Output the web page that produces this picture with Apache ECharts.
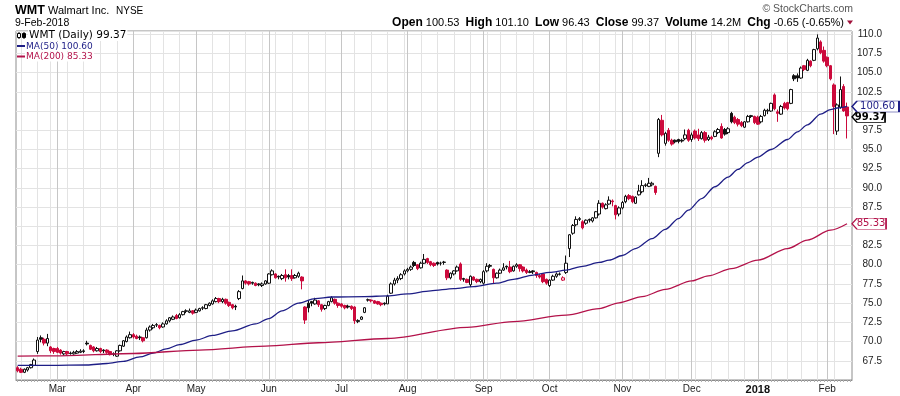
<!DOCTYPE html>
<html>
<head>
<meta charset="utf-8">
<script src="https://cdn.jsdelivr.net/npm/echarts@6.0.0/dist/echarts.min.js"></script>
<style>
html,body{margin:0;padding:0;background:#fff;}
#chart{width:900px;height:396px;}
</style>
</head>
<body>
<div id="chart"></div>
<script>
// ---- Data: daily candles [open, high, low, close], one array per month ----
const feb17 = [
[66.6,66.8,66.0,66.2],[66.4,66.6,65.9,66.0],[66.0,66.5,65.9,66.4],[66.3,66.7,66.1,66.6],
[66.6,67.1,66.5,67.0],[66.9,67.8,66.8,67.6],[68.7,70.6,68.4,70.2],[70.5,70.8,69.9,70.3],
[70.3,70.5,69.5,69.8],[69.8,71.0,69.4,70.4],[69.3,69.4,68.5,68.8],[69.1,69.2,68.4,68.7]];
const mar17 = [
[69.1,69.3,68.5,68.6],[68.9,69.0,68.3,68.5],[68.4,68.8,68.2,68.7],[68.7,68.8,68.2,68.4],
[68.5,68.7,68.3,68.45],[68.4,68.8,68.3,68.6],[68.5,68.9,68.4,68.7],[68.6,69.0,68.5,68.75],
[68.7,69.0,68.5,68.8],[69.8,70.1,69.5,69.7],[69.5,69.6,68.9,69.0],[69.3,69.4,68.6,68.8],
[68.8,69.3,68.7,69.1],[69.1,69.2,68.5,68.7],[68.9,69.0,68.5,68.8],[68.9,69.0,68.4,68.6],
[68.7,68.8,68.2,68.3],[68.4,68.6,68.1,68.35],[68.1,68.9,68.0,68.8],[68.8,69.6,68.7,69.5],
[69.4,70.2,69.3,70.1],[70.0,70.8,69.9,70.6],[70.5,71.3,70.4,70.9]];
const apr17 = [
[70.9,71.1,70.4,70.6],[70.7,70.9,70.3,70.4],[70.6,70.8,70.2,70.5],[70.5,70.6,69.9,70.1],
[70.5,71.8,70.4,71.5],[71.5,72.1,71.3,71.9],[71.8,72.3,71.6,72.1],[72.2,72.4,71.9,72.15],
[72.1,72.2,71.6,71.8],[71.9,72.5,71.8,72.3],[72.3,72.9,72.2,72.7],[72.7,73.2,72.5,73.1],
[72.9,73.4,72.8,73.2],[73.4,73.6,72.9,73.0],[73.1,73.7,73.0,73.5],[73.5,74.0,73.4,73.9],
[74.0,74.2,73.7,73.95],[73.8,74.3,73.7,74.0],[74.0,74.1,73.5,73.7]];
const may17 = [
[73.8,74.3,73.7,74.1],[74.0,74.4,73.9,74.3],[74.4,74.6,74.1,74.35],[74.3,74.9,74.2,74.8],
[74.7,75.1,74.6,75.0],[74.9,75.5,74.8,75.3],[75.2,75.8,75.1,75.6],[75.6,75.7,75.0,75.2],
[75.2,75.7,75.0,75.5],[75.5,75.6,74.8,75.0],[75.1,75.2,74.5,74.7],[74.8,74.9,74.2,74.4],
[74.6,74.8,74.1,74.5],[75.6,76.7,75.4,76.5],[76.9,78.6,76.8,77.9],[77.9,78.0,77.4,77.6],
[77.8,77.9,77.3,77.5],[77.7,77.8,77.4,77.6],[77.6,77.7,77.2,77.3],[77.5,77.6,77.2,77.4],
[77.3,77.7,77.1,77.5],[77.5,78.0,77.4,77.9]];
const jun17 = [
[77.6,78.9,77.5,78.8],[78.7,79.4,78.6,79.2],[78.8,78.9,78.2,78.3],[78.5,78.6,78.1,78.4],
[78.2,78.8,78.0,78.6],[78.7,79.4,77.8,78.3],[78.6,78.8,78.1,78.4],[78.6,79.4,77.9,78.2],
[78.3,78.8,78.2,78.6],[78.5,79.1,78.3,78.9],[78.4,78.5,76.8,77.9],[74.5,74.6,72.3,72.8],
[75.0,75.4,73.8,74.4],[75.2,75.3,74.6,75.0],[74.9,75.7,74.8,75.4],[75.3,75.4,74.5,74.8],
[74.8,74.9,73.9,74.2],[74.3,74.8,74.1,74.7],[74.7,75.3,74.6,75.2],[75.2,75.9,75.1,75.7],
[75.5,75.6,74.8,75.0],[75.0,75.1,74.4,74.7]];
const jul17 = [
[74.9,75.0,74.4,74.6],[74.7,74.8,74.2,74.4],[74.6,74.8,74.3,74.5],[74.6,74.7,74.1,74.3],
[74.5,74.6,72.3,72.7],[72.6,72.9,72.4,72.75],[72.9,73.3,72.8,73.2],[73.8,74.5,73.7,74.4],
[75.4,75.6,75.2,75.45],[75.4,75.5,75.1,75.3],[75.3,75.4,74.9,75.0],[75.2,75.3,74.8,74.9],
[75.0,75.1,74.6,74.8],[75.0,75.1,74.7,74.9],[74.9,76.1,74.9,75.9],[76.3,77.7,76.2,77.5],
[77.5,78.3,77.3,78.0],[78.0,78.5,77.6,78.2],[78.2,78.9,78.0,78.7],[78.8,79.4,78.6,79.2]];
const aug17 = [
[79.2,79.6,79.0,79.4],[79.4,79.9,79.2,79.7],[80.3,80.5,79.7,79.9],[80.0,80.1,79.3,79.5],
[79.6,80.4,79.5,80.2],[80.2,81.4,80.1,80.7],[80.8,80.9,80.1,80.3],[80.4,80.5,79.8,80.0],
[80.2,80.3,79.7,79.9],[80.3,80.4,79.9,80.1],[80.2,80.4,79.9,80.2],[80.3,80.5,80.0,80.35],
[79.3,79.4,78.0,78.3],[78.3,79.0,78.1,78.9],[78.8,79.3,78.6,79.2],[79.2,79.9,79.1,79.7],
[80.1,80.3,77.9,78.1],[78.2,78.3,77.8,78.1],[78.1,78.2,77.6,77.7],[77.4,78.6,77.1,78.5],
[78.4,78.5,77.9,78.0],[78.1,78.2,77.6,77.8],[77.8,78.2,77.6,78.1]];
const sep17 = [
[77.6,79.3,77.4,79.1],[79.2,80.2,79.0,79.8],[79.8,80.1,79.6,79.9],[79.4,79.5,77.6,78.3],
[78.3,79.0,78.2,78.9],[78.9,79.5,78.8,79.3],[79.3,80.2,79.2,79.6],[79.8,79.9,79.4,79.7],
[79.7,80.5,78.9,79.1],[79.2,79.9,79.1,79.8],[79.8,80.2,79.6,80.0],[80.0,80.1,79.1,79.5],
[79.7,79.8,79.0,79.2],[79.3,79.5,78.8,79.0],[79.0,79.3,78.9,79.1],[79.2,79.3,78.8,79.1],
[79.0,79.1,78.3,78.6],[78.6,78.8,78.2,78.4],[78.8,78.9,77.6,77.8],[78.1,78.2,77.4,77.6]];
const oct17 = [
[77.3,78.1,77.1,78.0],[78.0,78.7,77.9,78.5],[78.5,79.0,78.3,78.8],[78.75,79.0,78.6,78.8],
[78.0,78.5,77.9,78.3],[79.0,81.2,78.8,80.2],[82.1,84.0,81.0,83.9],[84.1,85.3,83.9,85.1],
[85.2,86.3,85.0,85.9],[85.9,86.2,85.7,86.0],[85.6,85.8,84.6,84.8],[85.4,85.9,85.2,85.8],
[85.9,86.0,85.5,85.8],[85.7,86.2,85.5,86.1],[86.1,87.0,86.0,86.9],[86.6,88.4,86.4,88.0],
[88.0,88.1,87.3,87.5],[87.3,88.0,87.2,87.8],[87.9,88.9,87.8,88.4],[88.3,88.5,87.6,88.2],
[87.7,87.8,85.9,86.5],[86.6,87.6,86.3,87.4]];
const nov17 = [
[87.4,88.3,87.2,88.1],[88.2,89.1,88.0,88.9],[89.0,89.2,88.4,88.6],[88.9,89.0,88.0,88.2],
[88.0,88.9,87.9,88.8],[89.1,90.4,89.0,89.6],[89.5,91.0,89.3,90.3],[90.3,90.6,90.1,90.4],
[90.2,91.3,90.1,90.6],[90.4,90.8,90.2,90.6],[90.2,90.3,89.1,89.4],[94.5,99.1,94.0,98.9],
[98.8,99.5,96.7,96.9],[95.8,97.3,95.5,97.1],[97.5,97.8,96.0,96.2],[96.2,96.4,95.5,95.7],
[96.2,96.3,95.8,96.0],[96.3,96.4,95.8,96.05],[96.2,96.4,95.9,96.1],[96.4,97.6,96.2,96.9],
[97.5,97.7,96.0,96.2]];
const dec17 = [
[96.3,97.2,96.0,96.9],[97.4,97.6,96.3,96.5],[96.9,97.7,96.1,96.4],[96.4,97.4,96.3,97.2],
[97.2,97.4,95.9,96.2],[96.3,96.9,96.1,96.6],[96.6,96.8,96.2,96.4],[96.7,97.5,96.6,97.3],
[97.2,97.8,97.0,97.6],[98.0,98.4,96.4,96.5],[97.6,97.8,96.8,97.0],[97.2,97.9,97.0,97.7],
[99.7,99.9,98.4,98.6],[99.2,99.4,98.3,98.5],[98.9,99.1,98.0,98.3],[98.5,98.7,97.9,98.1],
[97.9,98.7,97.8,98.6],[98.6,99.5,98.5,99.3],[99.4,99.5,99.1,99.3],[99.3,99.4,98.3,98.5]];
const jan18 = [
[99.2,99.4,98.2,98.3],[98.6,99.5,98.4,99.3],[99.4,100.3,99.3,100.1],[100.0,100.3,99.6,100.1],
[100.0,101.1,99.9,101.0],[102.1,102.3,100.1,100.3],[99.9,100.2,98.6,99.7],[99.6,100.8,99.5,100.6],
[101.0,101.2,100.2,100.4],[101.1,101.2,100.1,100.3],[101.0,102.9,100.9,102.8],[104.6,104.8,103.9,104.2],
[104.6,104.9,103.8,104.3],[104.3,105.8,104.2,105.6],[105.9,106.0,105.2,105.4],[105.3,106.8,105.2,106.6],
[106.5,106.6,105.7,105.9],[106.6,108.1,106.5,108.0],[108.1,109.98,107.9,109.5],[109.0,109.2,107.4,107.6],
[107.9,108.4,106.3,106.5]];
const feb18 = [
[107.0,107.1,105.7,105.9],[105.9,106.0,104.0,104.2],[103.4,103.6,97.0,100.6],[97.4,101.0,96.9,100.8],
[100.5,104.5,100.3,102.8],[103.2,103.5,99.9,100.02],[100.53,101.10,96.43,99.37]];

// Moving averages: [trading-day index, value]
const ma50 = [[0,66.9],[10,66.9],[21,66.95],[27,67.15],[32,67.42],[37,68.0],[41,68.5],[45,69.05],
[49,69.6],[54,70.2],[59,70.8],[65,71.4],[72,72.3],[76,73.0],[80,74.0],[85,75.0],[90,75.6],[95,75.8],
[105,75.85],[112,75.95],[118,76.2],[125,76.6],[132,76.9],[138,77.15],[145,77.6],[150,78.1],[156,78.66],
[161,79.0],[166,79.3],[171,79.8],[176,80.3],[179,80.6],[183,81.2],[187,82.1],[192,83.4],[196,84.6],
[200,86.0],[203,87.1],[207,88.6],[211,90.15],[215,91.4],[218,92.4],[221,93.3],[224,94.0],[228,95.0],
[233,96.3],[236,97.3],[239,98.2],[243,99.6],[246,100.2],[248,100.4],[251,100.6]];
const ma200 = [[0,68.1],[12,68.15],[35,68.45],[55,68.9],[75,69.4],[91,69.85],[112,70.4],[136,71.85],
[150,72.6],[166,73.45],[176,74.3],[182,75.05],[189,75.85],[196,76.8],[204,77.9],[209,78.55],[216,79.5],
[224,80.6],[233,82.1],[239,83.2],[246,84.5],[251,85.33]];

const volumeText = '14.2M';
const yMin = 65, yMax = 110.42, yStep = 2.5;
const monthNames = ['Jan','Feb','Mar','Apr','May','Jun','Jul','Aug','Sep','Oct','Nov','Dec'];
const holidays = ['2017-02-20','2017-04-14','2017-05-29','2017-07-04','2017-09-04','2017-11-23','2017-12-25','2018-01-01','2018-01-15'];

// ---- Build ----
const ohlc = [].concat(feb17, mar17, apr17, may17, jun17, jul17, aug17, sep17, oct17, nov17, dec17, jan18, feb18);
const dates = [];
(function(){
  const hol = new Set(holidays);
  let t = Date.UTC(2017, 1, 10);
  while (dates.length < ohlc.length) {
    const d = new Date(t);
    const dow = d.getUTCDay();
    const s = d.toISOString().slice(0, 10);
    if (dow !== 0 && dow !== 6 && !hol.has(s)) dates.push(s);
    t += 86400000;
  }
})();
const cats = dates.concat([' ']);
const monthStart = new Set(), weekStart = new Set();
for (let i = 1; i < dates.length; i++) {
  if (dates[i].slice(5, 7) !== dates[i - 1].slice(5, 7)) monthStart.add(i);
  const a = new Date(dates[i] + 'T00:00:00Z').getUTCDay();
  const b = new Date(dates[i - 1] + 'T00:00:00Z').getUTCDay();
  if (a <= b) weekStart.add(i);
}

const RED = '#cc0a3c', BLACK = '#111111', NAVY = '#1e1e86', MAROON = '#b3124a';
const candleData = ohlc.map((d, i) => {
  const [o, h, l, c] = d;
  const prev = i > 0 ? ohlc[i - 1][3] : o;
  const edge = c < prev ? RED : BLACK;
  const fill = c >= o ? '#ffffff' : edge;
  return { value: [o, c, l, h], itemStyle: { color: fill, color0: fill, borderColor: edge, borderColor0: edge, borderColorDoji: edge } };
});

const last = ohlc.length - 1;
const lastO = ohlc[last][0], lastH = ohlc[last][1], lastL = ohlc[last][2], lastC = ohlc[last][3];
const prevC = ohlc[last - 1][3];
const chg = lastC - prevC, pct = chg / prevC * 100;
const ma50Last = ma50[ma50.length - 1][1], ma200Last = ma200[ma200.length - 1][1];
const dParts = dates[last].split('-');
const dateText = (+dParts[2]) + '-' + monthNames[+dParts[1] - 1] + '-' + dParts[0];

function boxMark(value, text, color, width, bold, dy) {
  return {
    symbol: 'path://M0,5.5L5,0L' + width + ',0L' + width + ',11L5,11Z',
    symbolSize: [width, 11],
    symbolKeepAspect: false,
    symbolOffset: [5 + width / 2, dy],
    silent: true,
    animation: false,
    itemStyle: { color: '#ffffff', borderColor: color, borderWidth: 1 },
    label: { show: true, position: 'inside', offset: [2, 0], formatter: text, color: bold ? '#000' : color,
      fontFamily: 'DejaVu Sans', fontSize: 10, fontWeight: bold ? 'bold' : 'normal' },
    data: [{ coord: [last, value] }]
  };
}

const chart = echarts.init(document.getElementById('chart'), null, { renderer: 'canvas' });
const txt = (x, y, text, font, fill, align, bg) => ({
  type: 'text', x: x, y: y, silent: true, z: 10,
  style: { text: text, font: font, fill: fill, align: align || 'left', verticalAlign: 'middle', textAlign: align || 'left', textVerticalAlign: 'middle',
    backgroundColor: bg || 'transparent', padding: bg ? [0, 1, 0, 1] : 0 }
});

chart.setOption({
  animation: false,
  backgroundColor: '#ffffff',
  grid: { left: 16, right: 48, top: 31, bottom: 16, show: true, borderColor: '#8c8c8c', borderWidth: 1, containLabel: false },
  xAxis: [{
    type: 'category', data: cats, boundaryGap: true,
    axisLine: { show: true, lineStyle: { color: '#8c8c8c' } },
    axisTick: { show: true, interval: 0, length: 2, alignWithLabel: true, lineStyle: { color: '#b0b0b0' } },
    axisLabel: {
      interval: (i) => monthStart.has(i), margin: 4, fontSize: 10, fontFamily: 'Liberation Sans', color: '#222',
      formatter: (v) => { const m = +v.slice(5, 7); return m === 1 ? '{b|' + v.slice(0, 4) + '}' : monthNames[m - 1]; },
      rich: { b: { fontWeight: 'bold', fontSize: 11, fontFamily: 'Liberation Sans', color: '#111' } }
    },
    splitLine: { show: true, interval: (i) => monthStart.has(i), alignWithLabel: true, lineStyle: { color: '#c6c6c6', width: 1 } }
  }, {
    type: 'category', data: cats, boundaryGap: true, position: 'bottom',
    axisLine: { show: false }, axisTick: { show: false }, axisLabel: { show: false },
    splitLine: { show: true, interval: (i) => weekStart.has(i) && !monthStart.has(i), alignWithLabel: true, lineStyle: { color: '#e3e3e3', width: 1 } }
  }],
  yAxis: {
    type: 'value', position: 'right', min: yMin, max: yMax, interval: yStep,
    axisLine: { show: false }, axisTick: { show: false },
    axisLabel: {
      align: 'right', margin: 30, fontSize: 10, fontFamily: 'Liberation Sans', color: '#222',
      formatter: (v) => (Math.abs(v / yStep - Math.round(v / yStep)) < 1e-6 && v > yMin + 0.1) ? v.toFixed(1) : ''
    },
    splitLine: { show: true, lineStyle: { color: '#e3e3e3', width: 1 } }
  },
  series: [{
    type: 'candlestick', name: 'WMT', data: candleData, barWidth: 3, z: 2,
    itemStyle: { borderWidth: 1 },
    markPoint: boxMark(lastC, lastC.toFixed(2), '#000', 33, true, 1)
  }, {
    type: 'line', name: 'MA(50)', data: ma50, symbol: 'none', showSymbol: false, smooth: 0.3, smoothMonotone: 'x', z: 3,
    lineStyle: { color: NAVY, width: 1.3 },
    markPoint: boxMark(ma50Last, ma50Last.toFixed(2), NAVY, 47, false, 0)
  }, {
    type: 'line', name: 'MA(200)', data: ma200, symbol: 'none', showSymbol: false, smooth: 0.3, smoothMonotone: 'x', z: 3,
    lineStyle: { color: MAROON, width: 1.3 },
    markPoint: boxMark(ma200Last, ma200Last.toFixed(2), MAROON, 34, false, 0)
  }],
  graphic: [
    txt(15, 11, 'WMT', 'bold 12.5px "Liberation Sans"', '#000'),
    txt(48, 11, 'Walmart Inc.', '11px "Liberation Sans"', '#000'),
    txt(116, 11, 'NYSE', '10px "Liberation Sans"', '#000'),
    txt(15, 23, dateText, '10.5px "Liberation Sans"', '#000'),
    txt(853, 9, '\u00a9 StockCharts.com', '10.5px "Liberation Sans"', '#555', 'right'),
    {
      type: 'text', x: 844, y: 22.5, silent: true,
      style: {
        text: '{l|Open} {v|' + lastO.toFixed(2) + '}  {l|High} {v|' + lastH.toFixed(2) + '}  {l|Low} {v|' + lastL.toFixed(2) +
          '}  {l|Close} {v|' + lastC.toFixed(2) + '}  {l|Volume} {v|' + volumeText + '}  {l|Chg} {v|' + chg.toFixed(2) + ' (' + pct.toFixed(2) + '%)}',
        align: 'right', verticalAlign: 'middle', textAlign: 'right', textVerticalAlign: 'middle',
        font: '11px "Liberation Sans"', fill: '#000',
        rich: { l: { font: 'bold 12px "Liberation Sans"', fill: '#000' }, v: { font: '11px "Liberation Sans"', fill: '#000' } }
      }
    },
    { type: 'polygon', silent: true, shape: { points: [[847, 20.5], [853, 20.5], [850, 24.5]] }, style: { fill: '#a0103a' } },
    // legend
    { type: 'line', silent: true, z: 10, shape: { x1: 19, y1: 32, x2: 19, y2: 39 }, style: { stroke: '#000', lineWidth: 1 } },
    { type: 'rect', silent: true, z: 10, shape: { x: 17.5, y: 33.5, width: 3, height: 4 }, style: { fill: '#fff', stroke: '#000', lineWidth: 1 } },
    { type: 'line', silent: true, z: 10, shape: { x1: 24, y1: 32, x2: 24, y2: 39 }, style: { stroke: '#000', lineWidth: 1 } },
    { type: 'rect', silent: true, z: 10, shape: { x: 22.5, y: 33.5, width: 3, height: 4 }, style: { fill: '#000', stroke: '#000', lineWidth: 1 } },
    txt(28, 35.5, 'WMT (Daily) ' + lastC.toFixed(2), '10.5px "DejaVu Sans"', '#000', 'left', '#fff'),
    { type: 'line', silent: true, z: 10, shape: { x1: 17, y1: 46, x2: 25, y2: 46 }, style: { stroke: NAVY, lineWidth: 2 } },
    txt(25, 46.5, 'MA(50) ' + ma50Last.toFixed(2), '9px "DejaVu Sans"', NAVY, 'left', '#fff'),
    { type: 'line', silent: true, z: 10, shape: { x1: 17, y1: 56.5, x2: 25, y2: 56.5 }, style: { stroke: MAROON, lineWidth: 2 } },
    txt(25, 57, 'MA(200) ' + ma200Last.toFixed(2), '9px "DejaVu Sans"', MAROON, 'left', '#fff')
  ]
});
</script>
</body>
</html>
